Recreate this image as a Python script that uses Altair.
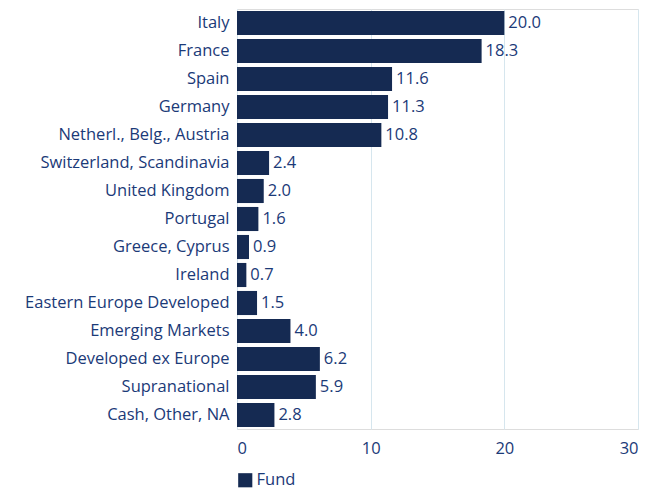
import altair as alt
import pandas as pd

categories = ["Italy", "France", "Spain", "Germany", "Netherl., Belg., Austria",
              "Switzerland, Scandinavia", "United Kingdom", "Portugal", "Greece, Cyprus",
              "Ireland", "Eastern Europe Developed", "Emerging Markets",
              "Developed ex Europe", "Supranational", "Cash, Other, NA"]
values = [20.0, 18.3, 11.6, 11.3, 10.8, 2.4, 2.0, 1.6, 0.9, 0.7, 1.5, 4.0, 6.2, 5.9, 2.8]
series = "Fund"

df = pd.DataFrame({"cat": categories, "val": values, "series": series})
df["label"] = df["val"].map(lambda v: f"{v:.1f}")

BAR = "#152a52"
TXT = "#1b3a78"
FONT = "Open Sans"
FS = 16.5

base = alt.Chart(df)
y = alt.Y("cat:N", sort=categories, title=None,
          scale=alt.Scale(paddingInner=0.14, paddingOuter=0.07),
          axis=alt.Axis(labelFontSize=FS, labelColor=TXT, labelFont=FONT, ticks=False,
                        domain=True, domainColor="#d6e6ee", labelPadding=8, labelLimit=300))
x = alt.X("val:Q", title=None, scale=alt.Scale(domain=[0, 30]),
          axis=alt.Axis(values=[0, 10, 20, 30], labelFontSize=FS, labelColor=TXT, labelFont=FONT,
                        ticks=False, domain=False, grid=True, gridColor="#d6e6ee",
                        labelPadding=11))

bars = base.mark_bar(color=BAR).encode(
    x=x, y=y,
    color=alt.Color("series:N", scale=alt.Scale(range=[BAR]),
                    legend=alt.Legend(title=None, orient="none", legendX=0, legendY=463,
                                      symbolType="square", symbolSize=200,
                                      labelFontSize=FS, labelColor=TXT, labelFont=FONT,
                                      symbolStrokeWidth=0, labelOffset=3))
)
text = base.mark_text(align="left", dx=4, fontSize=FS, color=TXT, font=FONT).encode(
    x="val:Q", y=alt.Y("cat:N", sort=categories), text="label:N")

chart = (bars + text).properties(
    width=401, height=420,
    autosize=alt.AutoSizeParams(type="none"),
    padding={"left": 229, "top": 1, "right": 15, "bottom": 60},
).configure_view(stroke=None).configure(background="white")

chart.save("out.html", embed_options={"renderer": "svg", "actions": False})
